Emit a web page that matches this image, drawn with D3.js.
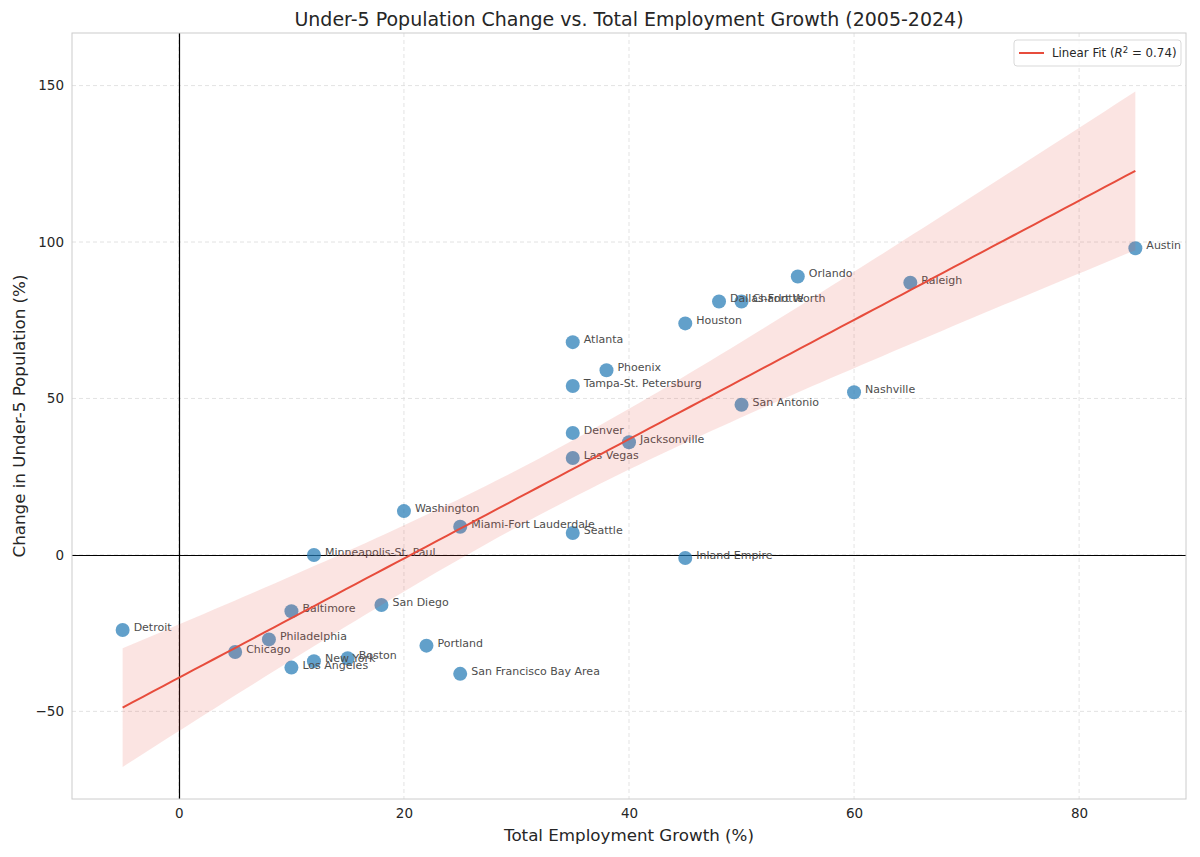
<!DOCTYPE html>
<html>
<head>
<meta charset="utf-8">
<script src="https://cdn.jsdelivr.net/npm/d3@7"></script>
<style>
  body { margin: 0; background: #fff; }
  text { font-family: "DejaVu Sans", sans-serif; }
</style>
</head>
<body>
<div id="chart"></div>
<script>
// metro areas, employment growth (%) vs change in under-5 population (%)
const cities = ["Austin", "Orlando", "Raleigh", "Dallas-Fort Worth", "Charlotte", "Houston",
  "Atlanta", "Phoenix", "Tampa-St. Petersburg", "Nashville", "San Antonio", "Denver",
  "Jacksonville", "Las Vegas", "Washington", "Miami-Fort Lauderdale", "Seattle",
  "Minneapolis-St. Paul", "Inland Empire", "Baltimore", "San Diego", "Detroit",
  "Philadelphia", "Portland", "Chicago", "Boston", "New York", "Los Angeles",
  "San Francisco Bay Area"];
const employment = [85, 55, 65, 48, 50, 45, 35, 38, 35, 60, 50, 35, 40, 35, 20, 25, 35,
  12, 45, 10, 18, -5, 8, 22, 5, 15, 12, 10, 25];
const under5 = [98, 89, 87, 81, 81, 74, 68, 59, 54, 52, 48, 39, 36, 31, 14, 9, 7,
  0, -1, -18, -16, -24, -27, -29, -31, -33, -34, -36, -38];

const xTicks = [0, 20, 40, 60, 80];
const yTicks = [-50, 0, 50, 100, 150];

const width = 1200, height = 857;
const margin = { top: 33, right: 14, bottom: 58, left: 72 };

const svg = d3.select("#chart")
  .append("svg")
  .attr("width", width)
  .attr("height", height);

const x = d3.scaleLinear().domain([-9.5, 89.5]).range([margin.left, width - margin.right]);
const y = d3.scaleLinear().domain([-78, 166.8]).range([height - margin.bottom, margin.top]);

const data = cities.map((c, i) => ({ name: c, x: employment[i], y: under5[i] }));

// least squares fit + 95% confidence band
const n = data.length;
const mx = d3.mean(data, d => d.x), my = d3.mean(data, d => d.y);
const sxx = d3.sum(data, d => (d.x - mx) ** 2);
const sxy = d3.sum(data, d => (d.x - mx) * (d.y - my));
const syy = d3.sum(data, d => (d.y - my) ** 2);
const slope = sxy / sxx, intercept = my - slope * mx;
const sse = d3.sum(data, d => (d.y - (intercept + slope * d.x)) ** 2);
const r2 = 1 - sse / syy;
const s = Math.sqrt(sse / (n - 2));
const tcrit = 2.052;
const [x0, x1] = d3.extent(employment);
const fit = d3.range(0, 101).map(i => {
  const xv = x0 + (x1 - x0) * i / 100;
  const yv = intercept + slope * xv;
  const h = tcrit * s * Math.sqrt(1 / n + (xv - mx) ** 2 / sxx);
  return { x: xv, y: yv, lo: yv - h, hi: yv + h };
});

// grid
const grid = svg.append("g")
  .attr("stroke", "#dcdcdc")
  .attr("stroke-dasharray", "4,3")
  .attr("stroke-width", 0.8);
grid.selectAll(".gx").data(xTicks).join("line")
  .attr("x1", d => x(d)).attr("x2", d => x(d))
  .attr("y1", margin.top).attr("y2", height - margin.bottom);
grid.selectAll(".gy").data(yTicks).join("line")
  .attr("y1", d => y(d)).attr("y2", d => y(d))
  .attr("x1", margin.left).attr("x2", width - margin.right);

// zero lines
svg.append("line")
  .attr("x1", margin.left).attr("x2", width - margin.right)
  .attr("y1", Math.round(y(0)) + 0.5).attr("y2", Math.round(y(0)) + 0.5)
  .attr("stroke", "#000").attr("stroke-width", 1.2);
svg.append("line")
  .attr("x1", Math.round(x(0)) + 0.5).attr("x2", Math.round(x(0)) + 0.5)
  .attr("y1", margin.top).attr("y2", height - margin.bottom)
  .attr("stroke", "#000").attr("stroke-width", 1.2);

// points
svg.append("g")
  .selectAll("circle")
  .data(data)
  .join("circle")
  .attr("cx", d => x(d.x))
  .attr("cy", d => y(d.y))
  .attr("r", 7)
  .attr("fill", "#1f77b4")
  .attr("fill-opacity", 0.7);

// labels
svg.append("g")
  .attr("font-size", 11)
  .attr("fill", "#4d4d4d")
  .selectAll("text")
  .data(data)
  .join("text")
  .attr("x", d => x(d.x) + 11)
  .attr("y", d => y(d.y) + 1)
  .text(d => d.name);

// band + line
svg.append("path")
  .datum(fit)
  .attr("fill", "#e74c3c")
  .attr("fill-opacity", 0.15)
  .attr("d", d3.area().x(d => x(d.x)).y0(d => y(d.lo)).y1(d => y(d.hi)));

svg.append("path")
  .datum(fit)
  .attr("fill", "none")
  .attr("stroke", "#e74c3c")
  .attr("stroke-width", 2)
  .attr("d", d3.line().x(d => x(d.x)).y(d => y(d.y)));

// frame
svg.append("rect")
  .attr("x", margin.left).attr("y", margin.top)
  .attr("width", width - margin.left - margin.right)
  .attr("height", height - margin.top - margin.bottom)
  .attr("fill", "none")
  .attr("stroke", "#cccccc")
  .attr("stroke-width", 1);

// axes (no tick marks, labels only)
const fmt = d => d < 0 ? "\u2212" + Math.abs(d) : d;
const xAxis = svg.append("g")
  .attr("transform", `translate(0,${height - margin.bottom})`)
  .call(d3.axisBottom(x).tickValues(xTicks).tickSize(0).tickPadding(9).tickFormat(fmt));
const yAxis = svg.append("g")
  .attr("transform", `translate(${margin.left},0)`)
  .call(d3.axisLeft(y).tickValues(yTicks).tickSize(0).tickPadding(8).tickFormat(fmt));
[xAxis, yAxis].forEach(a => {
  a.select(".domain").remove();
  a.selectAll("text")
    .attr("font-family", "DejaVu Sans, sans-serif")
    .attr("font-size", 13.5)
    .attr("fill", "#262626");
});

// titles
svg.append("text")
  .attr("x", (margin.left + width - margin.right) / 2)
  .attr("y", 26)
  .attr("text-anchor", "middle")
  .attr("font-size", 19)
  .attr("fill", "#262626")
  .text("Under-5 Population Change vs. Total Employment Growth (2005-2024)");

svg.append("text")
  .attr("x", (margin.left + width - margin.right) / 2)
  .attr("y", 841)
  .attr("text-anchor", "middle")
  .attr("font-size", 16.7)
  .attr("fill", "#262626")
  .text("Total Employment Growth (%)");

svg.append("text")
  .attr("transform", `translate(25,${(margin.top + height - margin.bottom) / 2}) rotate(-90)`)
  .attr("text-anchor", "middle")
  .attr("font-size", 16.7)
  .attr("fill", "#262626")
  .text("Change in Under-5 Population (%)");

// legend
const lg = svg.append("g").attr("transform", "translate(1014,40)");
lg.append("rect")
  .attr("width", 167).attr("height", 26).attr("rx", 3)
  .attr("fill", "#fff").attr("fill-opacity", 0.8)
  .attr("stroke", "#d9d9d9");
lg.append("line")
  .attr("x1", 5).attr("x2", 30).attr("y1", 13).attr("y2", 13)
  .attr("stroke", "#e74c3c").attr("stroke-width", 2);
const lt = lg.append("text")
  .attr("x", 38).attr("y", 17)
  .attr("font-size", 11.8)
  .attr("fill", "#262626");
lt.append("tspan").text("Linear Fit (");
lt.append("tspan").attr("font-style", "italic").text("R");
lt.append("tspan").attr("font-size", 8.5).attr("dy", -4).text("2");
lt.append("tspan").attr("dy", 4).text(` = ${r2.toFixed(2)})`);
</script>
</body>
</html>
